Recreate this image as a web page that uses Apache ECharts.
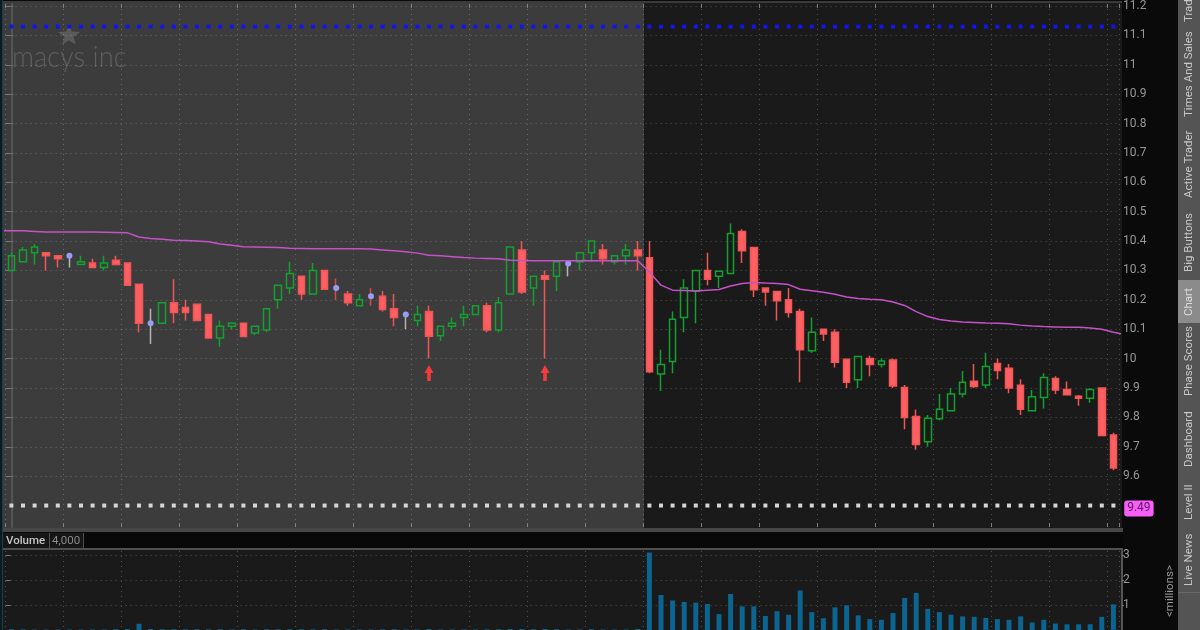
<!DOCTYPE html>
<html>
<head>
<meta charset="utf-8">
<title>macys inc</title>
<script src="https://cdn.jsdelivr.net/npm/echarts@6/dist/echarts.min.js"></script>
<style>
  html, body { margin: 0; padding: 0; background: #0a0a0a; }
  #chart { width: 1200px; height: 630px; }
</style>
</head>
<body>
<div id="chart"></div>
<script>
// candles, one per session bar
const opens = [
  10.30, 10.33, 10.36, 10.36, 10.35, 10.35, 10.32, 10.325, 10.31, 10.335,
  10.325, 10.253, 10.12, 10.12, 10.19, 10.174, 10.185, 10.15, 10.07, 10.11,
  10.12, 10.087, 10.097, 10.20, 10.24, 10.28, 10.22, 10.30, 10.24, 10.22,
  10.18, 10.2125, 10.2125, 10.17, 10.15, 10.13, 10.16, 10.078, 10.11, 10.14,
  10.15, 10.18, 10.097, 10.22, 10.37, 10.24, 10.282, 10.28, 10.324, 10.33,
  10.36, 10.37, 10.33, 10.35, 10.37, 10.343, 9.948, 9.99, 10.14, 10.23,
  10.30, 10.28, 10.29, 10.433, 10.378, 10.24, 10.228, 10.20, 10.16, 10.027,
  10.10, 10.09, 9.998, 9.928, 10.00, 9.98, 9.995, 9.902, 9.803, 9.717,
  9.795, 9.823, 9.88, 9.923, 9.91, 9.983, 9.967, 9.909, 9.823, 9.868,
  9.932, 9.895, 9.872, 9.865, 9.90, 9.74
];
const closes = [
  10.35, 10.37, 10.38, 10.35, 10.34, 10.35, 10.33, 10.31, 10.325, 10.32,
  10.25, 10.12, 10.12, 10.19, 10.157, 10.157, 10.13, 10.07, 10.11, 10.12,
  10.075, 10.11, 10.17, 10.25, 10.29, 10.22, 10.30, 10.236, 10.24, 10.19,
  10.20, 10.2125, 10.167, 10.14, 10.15, 10.15, 10.076, 10.11, 10.12, 10.15,
  10.18, 10.097, 10.19, 10.38, 10.227, 10.28, 10.27, 10.33, 10.324, 10.36,
  10.40, 10.34, 10.35, 10.37, 10.35, 9.955, 9.98, 10.134, 10.24, 10.30,
  10.27, 10.297, 10.426, 10.367, 10.234, 10.227, 10.197, 10.157, 10.03, 10.09,
  10.084, 9.988, 9.92, 10.007, 9.98, 9.992, 9.907, 9.80, 9.708, 9.797,
  9.828, 9.88, 9.92, 9.905, 9.973, 9.96, 9.90, 9.828, 9.87, 9.936,
  9.893, 9.877, 9.865, 9.895, 9.738, 9.628
];
const lows = [
  10.30, 10.33, 10.32, 10.30, 10.31, 10.31, 10.32, 10.31, 10.30, 10.32,
  10.25, 10.09, 10.05, 10.12, 10.12, 10.13, 10.13, 10.07, 10.04, 10.10,
  10.075, 10.08, 10.09, 10.17, 10.22, 10.20, 10.22, 10.236, 10.20, 10.18,
  10.18, 10.18, 10.16, 10.11, 10.10, 10.11, 10.00, 10.06, 10.10, 10.11,
  10.15, 10.09, 10.09, 10.22, 10.22, 10.18, 10.00, 10.23, 10.28, 10.30,
  10.33, 10.32, 10.32, 10.32, 10.30, 9.95, 9.89, 9.95, 10.09, 10.12,
  10.25, 10.24, 10.29, 10.325, 10.21, 10.18, 10.13, 10.14, 9.92, 10.02,
  10.06, 9.97, 9.90, 9.90, 9.94, 9.97, 9.90, 9.76, 9.69, 9.70,
  9.79, 9.823, 9.868, 9.90, 9.90, 9.93, 9.882, 9.808, 9.823, 9.83,
  9.88, 9.877, 9.84, 9.85, 9.738, 9.62
];
const highs = [
  10.36, 10.38, 10.39, 10.36, 10.35, 10.35, 10.35, 10.34, 10.35, 10.35,
  10.325, 10.253, 10.17, 10.19, 10.27, 10.20, 10.185, 10.15, 10.13, 10.12,
  10.12, 10.11, 10.17, 10.25, 10.33, 10.28, 10.325, 10.30, 10.273, 10.23,
  10.22, 10.24, 10.23, 10.22, 10.15, 10.18, 10.18, 10.11, 10.14, 10.18,
  10.18, 10.19, 10.21, 10.38, 10.40, 10.28, 10.30, 10.33, 10.324, 10.36,
  10.40, 10.39, 10.35, 10.39, 10.40, 10.40, 10.03, 10.16, 10.27, 10.30,
  10.36, 10.297, 10.46, 10.44, 10.378, 10.24, 10.228, 10.24, 10.17, 10.14,
  10.10, 10.10, 9.998, 10.007, 10.01, 10.00, 10.00, 9.91, 9.827, 9.808,
  9.88, 9.90, 9.958, 9.982, 10.02, 10.00, 9.982, 9.93, 9.893, 9.95,
  9.94, 9.922, 9.876, 9.90, 9.90, 9.748
];
// magenta moving average
const maLine = [
  10.435, 10.435, 10.433, 10.431, 10.431, 10.431, 10.431, 10.431, 10.430, 10.429,
  10.428, 10.414, 10.409, 10.406, 10.403, 10.402, 10.400, 10.398, 10.390, 10.386,
  10.381, 10.380, 10.379, 10.378, 10.376, 10.375, 10.374, 10.374, 10.374, 10.374,
  10.374, 10.373, 10.370, 10.367, 10.364, 10.359, 10.352, 10.350, 10.347, 10.344,
  10.342, 10.341, 10.340, 10.335, 10.334, 10.333, 10.333, 10.333, 10.333, 10.333,
  10.333, 10.333, 10.333, 10.333, 10.333, 10.295, 10.250, 10.233, 10.232, 10.230,
  10.233, 10.235, 10.247, 10.256, 10.259, 10.257, 10.256, 10.252, 10.236, 10.231,
  10.226, 10.219, 10.210, 10.205, 10.202, 10.200, 10.193, 10.181, 10.160, 10.143,
  10.133, 10.128, 10.125, 10.123, 10.121, 10.120, 10.119, 10.114, 10.111, 10.109,
  10.108, 10.107, 10.107, 10.104, 10.100, 10.090
];
const maLeftEdge = 10.435; // the average runs on to both panel borders
const maRightEdge = 10.084;
// volume in millions (premarket bars are mostly below the crop)
const volumes = [
  0.03, 0.03, 0.02, 0.02, 0.02, 0.02, 0.02, 0.02, 0.02, 0.03,
  0.04, 0.25, 0.04, 0.03, 0.03, 0.03, 0.03, 0.03, 0.03, 0.02,
  0.03, 0.02, 0.03, 0.03, 0.03, 0.03, 0.03, 0.03, 0.02, 0.02,
  0.02, 0.02, 0.03, 0.03, 0.02, 0.02, 0.04, 0.02, 0.02, 0.02,
  0.02, 0.03, 0.03, 0.04, 0.04, 0.03, 0.04, 0.03, 0.02, 0.02,
  0.03, 0.02, 0.02, 0.02, 0.04, 3.12, 1.41, 1.19, 1.13, 1.10,
  1.05, 0.64, 1.45, 0.95, 0.95, 0.565, 0.76, 0.615, 1.59, 0.72,
  0.475, 0.91, 0.99, 0.59, 0.44, 0.41, 0.68, 1.29, 1.49, 0.85,
  0.72, 0.615, 0.55, 0.53, 0.49, 0.44, 0.41, 0.55, 0.30, 0.41,
  0.26, 0.23, 0.23, 0.23, 0.53, 1.03
];
const priceTicks = [9.6, 9.7, 9.8, 9.9, 10, 10.1, 10.2, 10.3, 10.4, 10.5, 10.6, 10.7, 10.8, 10.9, 11, 11.1, 11.2];
const volumeTicks = [1, 2, 3];
const redDojiBars = [28, 31]; // dotted bars with a red wick, the rest are grey
const arrowBars = [36, 46];
const arrowPrice = 9.951;
const blueLevel = 11.13;
const whiteLevel = 9.5;
const lastPrice = 9.49;
const tabNames = ["Trade", "Times And Sales", "Active Trader", "Big Buttons", "Chart", "Phase Scores", "Dashboard", "Level II", "Live News"];
const tabEdges = [-40, 28, 124, 204, 280, 323, 403, 474, 527, 592]; // pixel borders of the side tabs
const tabTextEnds = [22, 117, 198, 272, 316, 396, 467, 520, 586];

const FONT = 'Roboto, "Open Sans", sans-serif';
const categories = opens.map((v, i) => String(i));

// 蜡烛图数据：开收相同的是带圆点的十字线，单独一组
const isDoji = (i) => opens[i] === closes[i];
const candleData = opens.map((o, i) => (isDoji(i) ? "-" : [o, closes[i], lows[i], highs[i]]));
const dojiData = opens.map((o, i) => {
  if (!isDoji(i)) return "-";
  const wick = redDojiBars.includes(i) ? "#d8484c" : "#b4b4b4";
  return { value: [o, closes[i], lows[i], highs[i]], itemStyle: { borderColorDoji: wick } };
});
const dotData = [];
opens.forEach((o, i) => {
  if (isDoji(i)) dotData.push([i, o]);
});
// 均线用数值轴画，这样能伸到面板边上
const maData = [[-0.74, maLeftEdge]].concat(maLine.map((v, i) => [i, v]), [[95.74, maRightEdge]]);

function rect(x, y, width, height, fill, z) {
  return { type: "rect", z: z === undefined ? -10 : z, silent: true, shape: { x, y, width, height }, style: { fill } };
}
function text(x, y, str, fill, font, scaleX) {
  return { type: "text", z: -5, silent: true, x, y, scaleX: scaleX || 1, style: { text: str, fill, font, textVerticalAlign: "middle" } };
}
function sideText(x, y, str, fill, size) {
  // 旋转文字，从下往上读
  return {
    type: "text",
    silent: true,
    x,
    y,
    rotation: Math.PI / 2,
    style: { text: str, fill, font: size + "px " + FONT, textAlign: "left", textVerticalAlign: "middle" },
  };
}
// 水印的五角星
function starPoints(cx, cy, outer, inner) {
  const points = [];
  for (let i = 0; i < 10; i++) {
    const r = i % 2 ? inner : outer;
    const a = -Math.PI / 2 + (i * Math.PI) / 5;
    points.push([cx + r * Math.cos(a), cy + r * Math.sin(a)]);
  }
  return points;
}

const graphics = [
  // panels
  rect(3, 3, 641, 525, "#3c3c3c"),
  rect(644, 3, 478, 525, "#1a1a1a"),
  rect(0, 0, 3, 630, "#0d1a20"),
  rect(2, 0, 1, 630, "#12404f"),
  rect(3, 1, 1119, 2, "#3a3a3a"),
  rect(3, 528, 1120, 4, "#474747"),
  rect(3, 533, 1120, 15, "#080808"),
  rect(3, 533, 46, 15, "#161616"),
  rect(49, 533, 1, 15, "#4f4f4f"),
  rect(50, 533, 33, 15, "#161616"),
  rect(83, 533, 1, 15, "#4f4f4f"),
  rect(3, 548, 1120, 2, "#4f4f4f"),
  rect(3, 550, 1119, 80, "#1a1a1a"),
  rect(1178, 0, 22, 630, "#545454"),
  text(6, 541, "Volume", "#c4c4c4", "500 11.5px " + FONT),
  text(52, 541, "4,000", "#8a8a8a", "11.5px " + FONT),
  // watermark
  text(12, 57, "macys inc", "#5e5e5e", "300 30px Lato, " + FONT, 0.91),
  { type: "polygon", z: -5, silent: true, shape: { points: starPoints(69, 35.5, 11.5, 4.8) }, style: { fill: "#5a5a5a" } },
  sideText(1170, 617, "<millions>", "#9a9a9a", 11.5),
];
tabNames.forEach((name, i) => {
  const active = name === "Chart";
  graphics.push(rect(1178, tabEdges[i], 22, tabEdges[i + 1] - tabEdges[i], active ? "#8b8b8b" : "#545454", 0));
  graphics.push(rect(1178, tabEdges[i + 1], 22, 1, "#6a6a6a", 0));
  graphics.push(sideText(1189, tabTextEnds[i], name, active ? "#dcdcdc" : "#c8c8c8", 11.5));
});

const gridLine = { show: true, lineStyle: { color: "rgba(255,255,255,0.24)", type: [1, 4], width: 1 } };
const axisEdge = { show: true, lineStyle: { color: "#555", width: 2 } };
const innerTick = { show: true, inside: true, length: 4, interval: 4, lineStyle: { color: "#808080" } };

function timeAxis(gridIndex, position, withGrid) {
  return {
    type: "category",
    gridIndex,
    position,
    data: categories,
    axisLine: { show: false },
    axisTick: innerTick,
    axisLabel: { show: false },
    splitLine: withGrid ? Object.assign({ interval: 4 }, gridLine) : { show: false },
  };
}
function valueAxis(gridIndex, ticks, range, labelled) {
  return {
    type: "value",
    gridIndex,
    position: labelled ? "right" : "left",
    offset: labelled ? 2.8 : 0,
    min: range[0],
    max: range[1],
    axisLine: labelled ? axisEdge : { show: false },
    axisTick: labelled
      ? { show: true, length: 2, customValues: ticks, lineStyle: { color: "#777" } }
      : { show: true, inside: true, length: 5, customValues: ticks, lineStyle: { color: "#7a7a7a" } },
    axisLabel: {
      show: labelled,
      customValues: ticks,
      margin: 1,
      color: "#979797",
      fontFamily: FONT,
      fontSize: 12,
      formatter: (v) => String(v),
    },
    splitLine: labelled ? gridLine : { show: false },
  };
}

const priceRange = [9.427, 11.207];
const volumeRange = [0, 3.18];

const option = {
  backgroundColor: "#0a0a0a",
  animation: false,
  graphic: { elements: graphics },
  grid: [
    { left: 5.6, width: 1113.6, top: 3, height: 524 },
    { left: 5.6, width: 1113.6, top: 551, height: 82.7 },
  ],
  xAxis: [
    timeAxis(0, "bottom", true),
    timeAxis(0, "top", false),
    timeAxis(1, "top", true),
    { type: "value", gridIndex: 0, show: false, min: -0.5, max: 95.5, splitLine: { show: false } },
  ],
  yAxis: [
    valueAxis(0, priceTicks, priceRange, true),
    valueAxis(1, volumeTicks, volumeRange, true),
    valueAxis(0, priceTicks, priceRange, false),
    valueAxis(1, volumeTicks, volumeRange, false),
  ],
  series: [
    {
      name: "Price",
      type: "candlestick",
      xAxisIndex: 0,
      yAxisIndex: 0,
      barWidth: 7,
      data: candleData,
      itemStyle: {
        color: "rgba(0,0,0,0)",
        color0: "#ff5f62",
        borderColor: "#12a02e",
        borderColor0: "#f05656",
        borderWidth: 1.5,
      },
    },
    {
      name: "Doji",
      type: "candlestick",
      xAxisIndex: 0,
      yAxisIndex: 0,
      barWidth: 1,
      data: dojiData,
      itemStyle: { borderWidth: 1.5 },
    },
    {
      name: "Dots",
      type: "scatter",
      xAxisIndex: 0,
      yAxisIndex: 0,
      symbolSize: 6,
      z: 4,
      data: dotData,
      itemStyle: { color: "#9a9cf2", opacity: 1 },
    },
    {
      name: "MA",
      type: "line",
      xAxisIndex: 3,
      yAxisIndex: 0,
      z: 5,
      clip: false,
      showSymbol: false,
      data: maData,
      lineStyle: { color: "#c552c9", width: 1.5 },
    },
    {
      name: "Upper level",
      type: "scatter",
      xAxisIndex: 0,
      yAxisIndex: 0,
      symbol: "rect",
      symbolSize: 4,
      data: categories.map((c, i) => [i, blueLevel]),
      itemStyle: { color: "#1414f0", opacity: 1 },
    },
    {
      name: "Lower level",
      type: "scatter",
      xAxisIndex: 0,
      yAxisIndex: 0,
      symbol: "rect",
      symbolSize: 4,
      data: categories.map((c, i) => [i, whiteLevel]),
      itemStyle: { color: "#d6d6d6", opacity: 1 },
      markLine: {
        silent: true,
        symbol: "none",
        lineStyle: { color: "rgba(0,0,0,0)", opacity: 1 },
        data: [{ yAxis: lastPrice }],
        label: {
          position: "end",
          distance: 5,
          formatter: String(lastPrice),
          color: "#5a1a5a",
          backgroundColor: "#f75ef7",
          borderRadius: 3,
          padding: [2, 3],
          fontFamily: FONT,
          fontSize: 12,
        },
      },
    },
    {
      name: "Arrows",
      type: "scatter",
      xAxisIndex: 0,
      yAxisIndex: 0,
      symbol: "path://M5 0 L10 8 L7 8 L7 16 L3 16 L3 8 L0 8 Z",
      symbolSize: [9, 16],
      data: arrowBars.map((i) => [i, arrowPrice]),
      itemStyle: { color: "#f23c3c", opacity: 1 },
    },
    {
      name: "Volume",
      type: "bar",
      xAxisIndex: 2,
      yAxisIndex: 1,
      barWidth: 5,
      data: volumes,
      itemStyle: { color: "#0c6491" },
    },
  ],
};

const chart = echarts.init(document.getElementById("chart"));
chart.setOption(option);
</script>
</body>
</html>
